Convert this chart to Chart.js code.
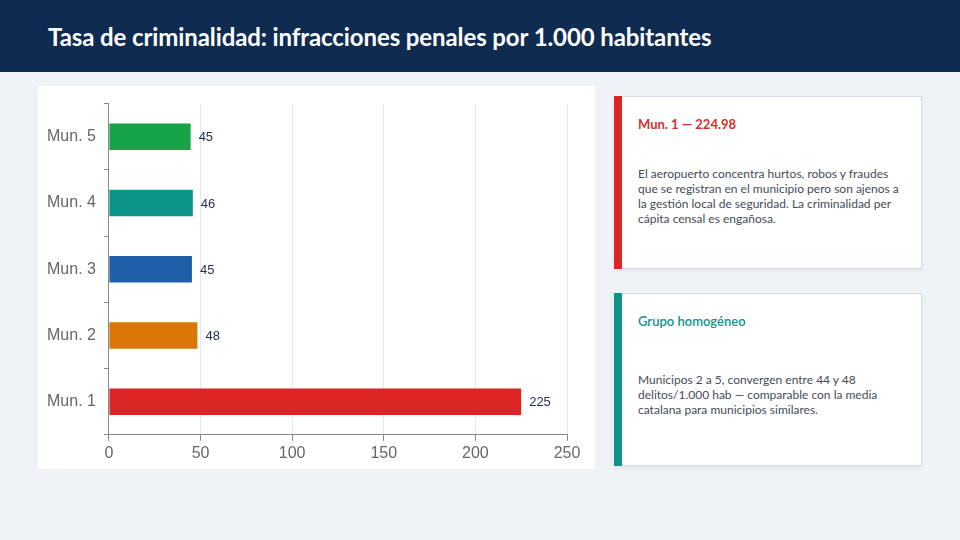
<!DOCTYPE html>
<html>
<head>
<meta charset="utf-8">
<script src="https://cdn.jsdelivr.net/npm/chart.js@4.4.1/dist/chart.umd.min.js"></script>
<style>
  body { margin: 0; width: 960px; height: 540px; background: #eff3f8; font-family: Lato, "Open Sans", sans-serif; position: relative; overflow: hidden; }
  .header { position: absolute; left: 0; top: 0; width: 960px; height: 72px; background: #0f2b52; }
  .header h1 { margin: 0; position: absolute; left: 48px; top: 22px; color: #fff; font-size: 24px; line-height: 29px; font-weight: 700; letter-spacing: -0.1px; }
  .panel { position: absolute; left: 38px; top: 86px; width: 557px; height: 383px; background: #fff; }
  .card { position: absolute; left: 614px; width: 308px; height: 173px; background: #fff; border: 1px solid #d5dce6; box-sizing: border-box; box-shadow: 0 2px 4px rgba(0,0,0,0.06); }
  .card .bar { position: absolute; left: -1px; top: -1px; bottom: -1px; width: 8px; }
  .card h3 { margin: 0; position: absolute; left: 23px; top: 19px; font-size: 13px; font-weight: 700; }
  .card p { margin: 0; position: absolute; left: 23px; top: 69px; width: 262px; font-size: 12px; line-height: 15px; color: #444b55; }
</style>
</head>
<body>
<div class="header"><h1>Tasa de criminalidad: infracciones penales por 1.000 habitantes</h1></div>
<div class="panel"><canvas id="chart"></canvas></div>

<div class="card" style="top:96px">
  <div class="bar" style="background:#dc2626"></div>
  <h3 style="color:#d32f2f">Mun. 1 — 224.98</h3>
  <p>El aeropuerto concentra hurtos, robos y fraudes que se registran en el municipio pero son ajenos a la gestión local de seguridad. La criminalidad per cápita censal es engañosa.</p>
</div>
<div class="card" style="top:293px">
  <div class="bar" style="background:#0d9488"></div>
  <h3 style="color:#0d9488; font-weight:600">Grupo homogéneo</h3>
  <p style="top:78px">Municipos 2 a 5, convergen entre 44 y 48 delitos/1.000 hab — comparable con la media catalana para municipios similares.</p>
</div>

<script>
var municipios = ['Mun. 1', 'Mun. 2', 'Mun. 3', 'Mun. 4', 'Mun. 5'];
var tasas = [224.98, 48.3, 45.3, 45.8, 44.6];
var colores = ['#dc2626', '#d97706', '#1f5ea8', '#0d9488', '#16a34a'];
var xTicks = [0, 50, 100, 150, 200, 250];

// value labels at the end of each bar
var barLabels = {
    id: 'barLabels',
    afterDatasetsDraw: function(chart) {
        var ctx = chart.ctx;
        var meta = chart.getDatasetMeta(0);
        ctx.save();
        ctx.font = '13px "Liberation Sans", Arial, sans-serif';
        ctx.fillStyle = '#1e2d4a';
        ctx.textBaseline = 'middle';
        meta.data.forEach(function(bar, i) {
            ctx.fillText(Math.round(tasas[i]), bar.x + 8, bar.y + 1);
        });
        ctx.restore();
    }
};

var ctx = document.getElementById('chart').getContext('2d');
var myChart = new Chart(ctx, {
    type: 'bar',
    data: {
        labels: municipios,
        datasets: [{
            data: tasas,
            backgroundColor: colores,
            borderWidth: 0,
            categoryPercentage: 0.8,
            barPercentage: 0.5
        }]
    },
    options: {
        indexAxis: 'y',
        responsive: true,
        maintainAspectRatio: false,
        animation: false,
        layout: { padding: { top: 13, right: 28, bottom: 3, left: 1 } },
        plugins: {
            legend: { display: false },
            tooltip: { enabled: false }
        },
        scales: {
            x: {
                min: 0,
                max: 250,
                afterBuildTicks: function(axis) {
                    axis.ticks = xTicks.map(function(v) { return { value: v }; });
                },
                grid: { color: '#e5e7eb', tickLength: 6, tickColor: '#888' },
                border: { color: '#888' },
                ticks: { color: '#666', font: { size: 16, family: '"Liberation Sans", Arial, sans-serif' } }
            },
            y: {
                reverse: true,
                grid: { drawOnChartArea: false, tickLength: 5, tickColor: '#888' },
                border: { color: '#888' },
                ticks: { color: '#666', padding: 8, font: { size: 16, family: '"Liberation Sans", Arial, sans-serif' } }
            }
        }
    },
    plugins: [barLabels]
});
</script>
</body>
</html>
